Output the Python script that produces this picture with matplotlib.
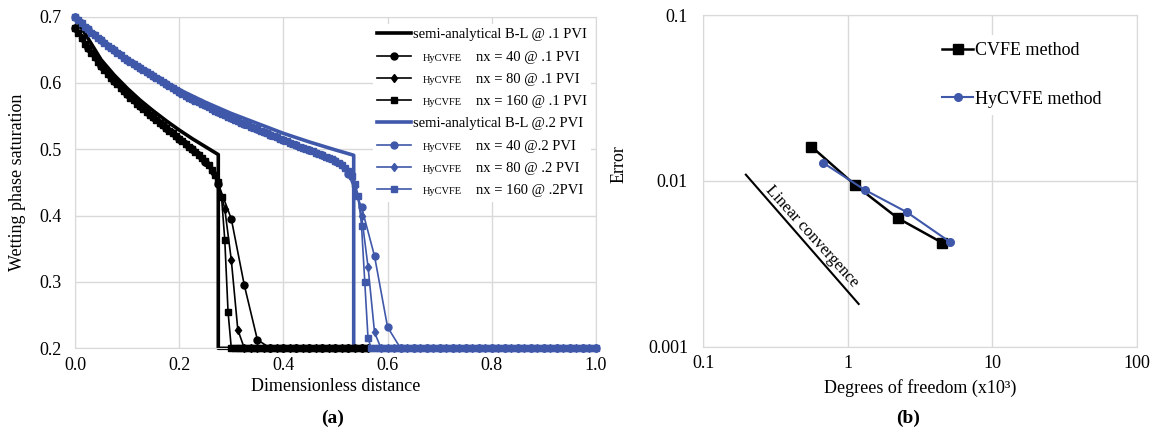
import matplotlib
matplotlib.use("Agg")
import matplotlib.pyplot as plt
import numpy as np
from matplotlib.transforms import IdentityTransform

plt.rcParams['font.family'] = ['Liberation Serif', 'DejaVu Serif']

BLACK = '#000000'
BLUE = '#3F58A9'
GRID = '#d9d9d9'

# ---- panel (a): saturation profiles ----
# semi-analytical Buckley-Leverett solutions
bl1_x = [0, 0.01, 0.025, 0.05, 0.075, 0.1, 0.125, 0.15, 0.175, 0.2, 0.225, 0.25, 0.275, 0.275, 1.0]
bl1_s = [0.70, 0.686, 0.667, 0.635, 0.612, 0.592, 0.574, 0.558, 0.543, 0.529, 0.516, 0.504, 0.492, 0.2, 0.2]
bl2_x = [0, 0.02, 0.05, 0.1, 0.15, 0.2, 0.25, 0.3, 0.35, 0.4, 0.45, 0.5, 0.535, 0.535, 1.0]
bl2_s = [0.70, 0.685, 0.665, 0.636, 0.611, 0.590, 0.571, 0.554, 0.539, 0.524, 0.511, 0.499, 0.491, 0.2, 0.2]

# HyCVFE nodal saturations (nodes spaced 1/nx) @ .1 PVI
s40_p1 = [0.683, 0.652, 0.626, 0.603, 0.583, 0.565, 0.548, 0.532, 0.516, 0.500,
          0.481, 0.448, 0.395, 0.295, 0.213] + [0.2] * 8
s80_p1 = [0.683, 0.667, 0.652, 0.639, 0.626, 0.614, 0.603, 0.593, 0.583, 0.574,
          0.565, 0.556, 0.548, 0.540, 0.532, 0.524, 0.516, 0.508, 0.500, 0.491,
          0.481, 0.468, 0.450, 0.410, 0.333, 0.228] + [0.2] * 20
s160_p1 = [0.683, 0.675, 0.667, 0.659, 0.652, 0.645, 0.639, 0.632, 0.626, 0.620,
           0.614, 0.608, 0.603, 0.598, 0.593, 0.588, 0.583, 0.578, 0.574, 0.569,
           0.565, 0.560, 0.556, 0.552, 0.548, 0.544, 0.540, 0.536, 0.532, 0.528,
           0.524, 0.520, 0.516, 0.512, 0.508, 0.504, 0.500, 0.496, 0.491, 0.487,
           0.482, 0.476, 0.469, 0.461, 0.451, 0.428, 0.363, 0.255] + [0.2] * 43

# HyCVFE nodal saturations @ .2 PVI
s40_p2 = [0.700, 0.681, 0.664, 0.649, 0.635, 0.622, 0.610, 0.598, 0.587, 0.576,
          0.566, 0.556, 0.547, 0.538, 0.530, 0.522, 0.514, 0.506, 0.499, 0.491,
          0.482, 0.462, 0.413, 0.339, 0.232] + [0.2] * 16
s80_p2 = [0.700, 0.690, 0.681, 0.672, 0.664, 0.656, 0.649, 0.642, 0.635, 0.628,
          0.622, 0.616, 0.610, 0.604, 0.598, 0.592, 0.587, 0.581, 0.576, 0.571,
          0.566, 0.561, 0.556, 0.551, 0.547, 0.542, 0.538, 0.534, 0.530, 0.526,
          0.522, 0.518, 0.514, 0.510, 0.506, 0.502, 0.499, 0.495, 0.491, 0.487,
          0.482, 0.476, 0.466, 0.445, 0.400, 0.323, 0.224] + [0.2] * 34
s160_p2 = [0.700, 0.695, 0.690, 0.685, 0.681, 0.676, 0.672, 0.668, 0.664, 0.660,
           0.656, 0.652, 0.649, 0.645, 0.642, 0.638, 0.635, 0.631, 0.628, 0.625,
           0.622, 0.619, 0.616, 0.613, 0.610, 0.607, 0.604, 0.601, 0.598, 0.595,
           0.592, 0.589, 0.587, 0.584, 0.581, 0.578, 0.576, 0.573, 0.571, 0.568,
           0.566, 0.563, 0.561, 0.558, 0.556, 0.553, 0.551, 0.549, 0.547, 0.544,
           0.542, 0.540, 0.538, 0.536, 0.534, 0.532, 0.530, 0.528, 0.526, 0.524,
           0.522, 0.520, 0.518, 0.516, 0.514, 0.512, 0.510, 0.508, 0.506, 0.504,
           0.502, 0.500, 0.499, 0.497, 0.495, 0.493, 0.491, 0.489, 0.487, 0.485,
           0.482, 0.479, 0.476, 0.472, 0.468, 0.460, 0.448, 0.430, 0.385, 0.300,
           0.215] + [0.2] * 70

# ---- panel (b): convergence ----
dof_cvfe = [0.56, 1.13, 2.22, 4.47]
err_cvfe = [0.0161, 0.0094, 0.00596, 0.00425]
dof_hy = [0.67, 1.31, 2.56, 5.1]
err_hy = [0.0129, 0.00883, 0.00648, 0.00428]
lin_x = [0.197, 1.19]
lin_y = [0.0109, 0.00181]


def nodes(s, nx):
    return np.arange(len(s)) / nx


fig = plt.figure(figsize=(11.6, 4.37), dpi=100)
ax1 = fig.add_axes([0.0647, 0.203, 0.449, 0.759])
ax2 = fig.add_axes([0.6063, 0.2066, 0.3736, 0.759])

# panel (a)
ax1.plot(bl1_x, bl1_s, color=BLACK, lw=2.6, zorder=2, clip_on=False,
         label='semi-analytical B-L @ .1 PVI')
ax1.plot(nodes(s40_p1, 40), s40_p1, color=BLACK, lw=1.2, marker='o', ms=5,
         zorder=3, clip_on=False, label='nx = 40 @ .1 PVI')
ax1.plot(nodes(s80_p1, 80), s80_p1, color=BLACK, lw=1.2, marker='d', ms=4.5,
         zorder=3, clip_on=False, label='nx = 80 @ .1 PVI')
ax1.plot(nodes(s160_p1, 160), s160_p1, color=BLACK, lw=1.2, marker='s', ms=5,
         zorder=3, clip_on=False, label='nx = 160 @ .1 PVI')
ax1.plot(bl2_x, bl2_s, color=BLUE, lw=2.6, zorder=2.5, clip_on=False,
         label='semi-analytical B-L @.2 PVI')
ax1.plot(nodes(s40_p2, 40), s40_p2, color=BLUE, lw=1.2, marker='o', ms=5,
         zorder=4, clip_on=False, label='nx = 40 @.2 PVI')
ax1.plot(nodes(s80_p2, 80), s80_p2, color=BLUE, lw=1.2, marker='d', ms=4.5,
         zorder=4, clip_on=False, label='nx = 80 @ .2 PVI')
ax1.plot(nodes(s160_p2, 160), s160_p2, color=BLUE, lw=1.2, marker='s', ms=5,
         zorder=4, clip_on=False, label='nx = 160 @ .2PVI')

ax1.set_xlim(0, 1.0)
ax1.set_ylim(0.2, 0.7)
ax1.set_xticks(np.arange(0, 1.01, 0.2))
ax1.set_yticks([0.2, 0.3, 0.4, 0.5, 0.6, 0.7])
ax1.set_xticklabels(['0.0', '0.2', '0.4', '0.6', '0.8', '1.0'])
ax1.grid(True, color=GRID, lw=1)
ax1.set_axisbelow(True)
for sp in ax1.spines.values():
    sp.set_color(GRID)
ax1.tick_params(length=0, labelsize=13)
ax1.tick_params(axis='y', pad=10)
ax1.tick_params(axis='x', pad=6)
ax1.set_xlabel('Dimensionless distance', fontsize=13, labelpad=3)
ax1.set_ylabel('Wetting phase saturation', fontsize=13, labelpad=9)

leg1 = ax1.legend(loc='upper left', bbox_to_anchor=(0.572, 0.978),
                  fontsize=10.5, frameon=True, facecolor='white', edgecolor='none',
                  framealpha=1, fancybox=False, handlelength=2.3, handletextpad=0.15,
                  labelspacing=0.62, borderaxespad=0, borderpad=0.3)
hy_rows = [1, 2, 3, 5, 6, 7]
# numerical-run labels are pushed right to make room for the small tag
for i in hy_rows:
    leg1.get_texts()[i].set_x(63)

# panel (b)
ax2.plot(dof_cvfe, err_cvfe, color=BLACK, lw=1.8, marker='s', ms=7.5,
         label='CVFE method')
ax2.plot(dof_hy, err_hy, color=BLUE, lw=1.5, marker='o', ms=5.5,
         label='HyCVFE method')
ax2.plot(lin_x, lin_y, color=BLACK, lw=1.5)
ax2.text(0.56, 0.00465, 'Linear convergence', rotation=-48, fontsize=12,
         ha='center', va='center', rotation_mode='anchor')
ax2.set_xscale('log')
ax2.set_yscale('log')
ax2.set_xlim(0.1, 100)
ax2.set_ylim(0.001, 0.1)
ax2.set_xticks([0.1, 1, 10, 100])
ax2.set_xticklabels(['0.1', '1', '10', '100'])
ax2.set_yticks([0.001, 0.01, 0.1])
ax2.set_yticklabels(['0.001', '0.01', '0.1'])
ax2.minorticks_off()
ax2.grid(True, color=GRID, lw=1)
ax2.set_axisbelow(True)
for sp in ax2.spines.values():
    sp.set_color(GRID)
ax2.tick_params(length=0, labelsize=13)
ax2.tick_params(axis='y', pad=11)
ax2.tick_params(axis='x', pad=6)
ax2.set_xlabel('Degrees of freedom (x10³)', fontsize=13, labelpad=5)
ax2.set_ylabel('Error', fontsize=13)
ax2.yaxis.set_label_coords(-0.175, 0.55)
ax2.legend(loc='upper left', bbox_to_anchor=(0.535, 0.94), fontsize=13,
           frameon=True, facecolor='white', edgecolor='none', framealpha=1,
           fancybox=False, handlelength=1.7, handletextpad=0.1,
           labelspacing=1.75, borderaxespad=0)

fig.text(0.287, 0.043, '(a)', fontsize=14, fontweight='bold', ha='center', va='center')
fig.text(0.783, 0.043, '(b)', fontsize=14, fontweight='bold', ha='center', va='center')

# small "HyCVFE" tags in front of the numerical-run legend entries
fig.canvas.draw()
renderer = fig.canvas.get_renderer()
x_text = leg1.get_texts()[0].get_window_extent(renderer).x0
for i in hy_rows:
    bb = leg1.get_texts()[i].get_window_extent(renderer)
    fig.text(x_text + 10, (bb.y0 + bb.y1) / 2 - 1, 'HyCVFE', fontsize=7.5,
             ha='left', va='center', transform=IdentityTransform(), zorder=10)

fig.savefig('out.png', dpi=100)
